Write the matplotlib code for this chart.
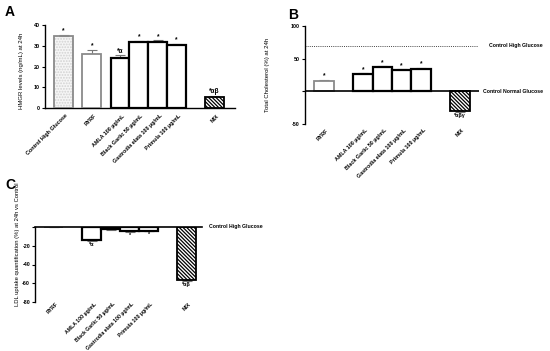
import matplotlib
matplotlib.use("Agg")
import matplotlib.pyplot as plt

plt.rcParams['font.family'] = ['Liberation Sans', 'DejaVu Sans']
plt.rcParams['font.weight'] = 'bold'
plt.rcParams['hatch.linewidth'] = 0.9

# ---------------- data ----------------
cats_a = ["Control High Glucose", "RYRF", "AMLA 100 µg/mL", "Black Garlic 50 µg/mL",
          "Gastrodia elata 100 µg/mL", "Primula 100 µg/mL", "MIX"]
pos_a = [0, 1.5, 3, 4, 5, 6, 8]
vals_a = [34.5, 26.0, 24.3, 31.6, 31.8, 30.4, 5.6]
err_a = [0.9, 2.0, 1.1, 0.6, 0.8, 0.6, 0.5]
sig_a = ["*", "*", "*α", "*", "*", "*", "*αβ"]

cats_b = ["RYRF", "AMLA 100 µg/mL", "Black Garlic 50 µg/mL",
          "Gastrodia elata 100 µg/mL", "Primula 100 µg/mL", "MIX"]
pos_b = [1, 3, 4, 5, 6, 8]
vals_b = [15.4, 25.6, 36.4, 31.8, 33.3, -30.3]
err_b = [1.5, 1.5, 1.5, 1.5, 1.8, 2.0]
sig_b = ["*", "*", "*", "*", "*", "*αβγ"]
ref_high_b = 70

cats_c = ["RYRF", "AMLA 100 µg/mL", "Black Garlic 50 µg/mL",
          "Gastrodia elata 100 µg/mL", "Primula 100 µg/mL", "MIX"]
pos_c = [1, 3, 4, 5, 6, 8]
vals_c = [-0.5, -14.0, -2.8, -5.0, -4.2, -56.4]
err_c = [0.3, 1.0, 0.5, 0.8, 0.8, 1.5]
sig_c = ["", "*α", "", "*", "*", "*αβ"]

FS = 3.9
W, H = 550, 351
fig = plt.figure(figsize=(5.5, 3.51), dpi=100)

def ax_px(l, t, r, b):
    return fig.add_axes([l / W, 1 - b / H, (r - l) / W, (b - t) / H])

def style_bar(ax, x, v, e, kind):
    if kind == "control":
        ax.bar(x, v, width=1.0, color='#f6f6f6', edgecolor='#d2d2d2', hatch='......', linewidth=0, zorder=2)
        ax.bar(x, v, width=1.0, fill=False, edgecolor='#8a8a8a', linewidth=1.3, zorder=3)
    elif kind == "gray":
        ax.bar(x, v, width=1.0, color='white', edgecolor='#8a8a8a', linewidth=1.3, zorder=3)
    elif kind == "mix":
        ax.bar(x, v, width=1.0, color='white', edgecolor='black', hatch='\\' * 9, linewidth=1.3, zorder=3)
    else:
        ax.bar(x, v, width=1.0, color='white', edgecolor='black', linewidth=1.6, zorder=3)
    if v >= 0:
        yerr = [[0], [e]]
    else:
        yerr = [[e], [0]]
    ax.errorbar(x, v, yerr=yerr, fmt='none', ecolor='#777777', elinewidth=0.8,
                capsize=3.5, capthick=0.8, zorder=2)

def kinds(names):
    out = []
    for n in names:
        if n.startswith("Control"):
            out.append("control")
        elif n == "RYRF":
            out.append("gray")
        elif n == "MIX":
            out.append("mix")
        else:
            out.append("black")
    return out

def common(ax):
    ax.tick_params(axis='y', labelsize=FS, length=2.5, width=0.8, pad=1)
    for s in ['top', 'right']:
        ax.spines[s].set_visible(False)
    ax.spines['left'].set_linewidth(1.0)
    ax.set_xticks([])

def cat_labels(ax, pos, names, y, fs=FS):
    for p, n in zip(pos, names):
        ax.text(p + 0.1, y, n, rotation=45, ha='right', va='top', fontsize=fs,
                rotation_mode='anchor', transform=ax.get_xaxis_transform(), clip_on=False)

# ---------------- Panel A ----------------
axA = ax_px(44.7, 25, 235, 108.3)
for x, v, e, k, s in zip(pos_a, vals_a, err_a, kinds(cats_a), sig_a):
    style_bar(axA, x, v, e, k)
    axA.text(x, v + e + 0.3, s, ha='center', va='bottom', fontsize=FS + 0.8)
axA.set_xlim(-1, 9.1)
axA.set_ylim(0, 40)
axA.set_yticks([0, 10, 20, 30, 40])
common(axA)
axA.spines['bottom'].set_linewidth(1.0)
cat_labels(axA, pos_a, cats_a, -0.06)
axA.set_ylabel("HMGR levels (ng/mL) at 24h", fontsize=FS + 0.4)
axA.yaxis.set_label_coords(-0.11, 0.45)
fig.text(5 / W, 1 - 12 / H, "A", fontsize=10, fontweight='bold', va='center', ha='left')

# ---------------- Panel B ----------------
axB = ax_px(304.7, 26, 479.3, 123.7)
for x, v, e, k, s in zip(pos_b, vals_b, err_b, kinds(cats_b), sig_b):
    style_bar(axB, x, v, e, k)
    if v >= 0:
        axB.text(x, v + e + 1, s, ha='center', va='bottom', fontsize=FS + 0.8)
    else:
        axB.text(x, v - e - 1, s, ha='center', va='top', fontsize=FS)
axB.set_xlim(0, 9)
axB.set_ylim(-50, 100)
axB.set_yticks([100, 50, 0, -50])
axB.set_yticklabels(['100', '50', '', '-50'])
common(axB)
axB.spines['bottom'].set_visible(False)
axB.axhline(0, color='black', linewidth=1.2, zorder=4)
axB.axhline(ref_high_b, xmax=0.99, color='#444444', linewidth=0.7, linestyle=(0, (1, 1.2)), zorder=1)
axB.text(1.055, ref_high_b, "Control High Glucose", transform=axB.get_yaxis_transform(),
         fontsize=FS - 0.2, va='center', ha='left', clip_on=False)
axB.text(1.02, 0, "Control Normal Glucose", transform=axB.get_yaxis_transform(),
         fontsize=FS - 0.2, va='center', ha='left', clip_on=False)
cat_labels(axB, pos_b, cats_b, -0.04)
axB.set_ylabel("Total Cholesterol (%) at 24h", fontsize=FS + 0.4)
axB.yaxis.set_label_coords(-0.2, 0.5)
fig.text(288 / W, 1 - 15 / H, "B", fontsize=10, fontweight='bold', va='center', ha='left')

# ---------------- Panel C ----------------
axC = ax_px(35, 226.7, 205.7, 302.3)
for x, v, e, k, s in zip(pos_c, vals_c, err_c, kinds(cats_c), sig_c):
    style_bar(axC, x, v, e, k)
    if s:
        axC.text(x, v - e - 0.8, s, ha='center', va='top', fontsize=FS)
axC.set_xlim(0, 9)
axC.set_ylim(-80, 0)
axC.set_yticks([0, -20, -40, -60, -80])
axC.set_yticklabels(['', '-20', '-40', '-60', '-80'])
common(axC)
axC.spines['bottom'].set_visible(False)
axC.axhline(0, xmax=0.98, color='black', linewidth=1.2, zorder=4, clip_on=False)
axC.text(1.02, 0, "Control High Glucose", transform=axC.get_yaxis_transform(),
         fontsize=FS - 0.2, va='center', ha='left', clip_on=False)
cat_labels(axC, pos_c, cats_c, 0.01, fs=FS - 0.2)
axC.set_ylabel("LDL uptake quantification (%) at 24h vs Control", fontsize=FS + 0.3)
axC.yaxis.set_label_coords(-0.085, 0.77)
fig.text(5 / W, 1 - 185 / H, "C", fontsize=10, fontweight='bold', va='center', ha='left')

fig.savefig("out.png", dpi=100)
